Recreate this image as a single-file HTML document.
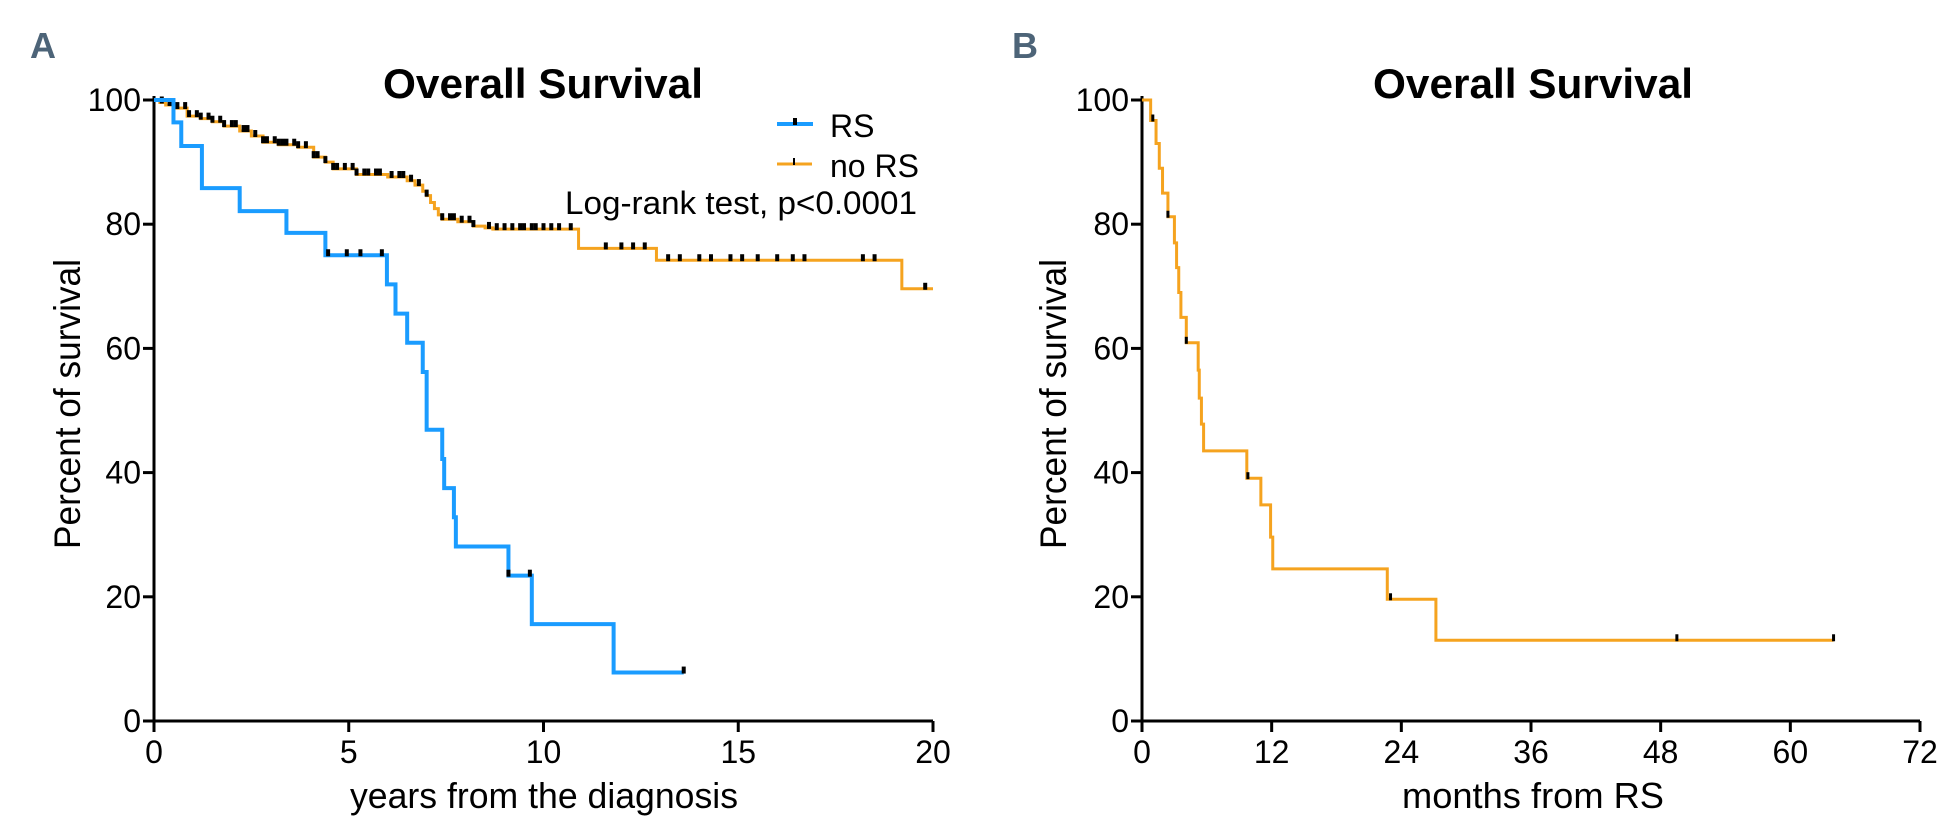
<!DOCTYPE html>
<html><head><meta charset="utf-8"><style>
html,body{margin:0;padding:0;background:#fff;}
svg{display:block;font-family:"Liberation Sans",Arial,sans-serif;}
</style></head><body>
<svg id="s" width="1953" height="834" xmlns="http://www.w3.org/2000/svg">
<text x="30" y="58" font-size="36" font-weight="bold" fill="#4d6478">A</text>
<text x="1012" y="58" font-size="36" font-weight="bold" fill="#4d6478">B</text>
<text x="543" y="98" font-size="42" font-weight="bold" text-anchor="middle" textLength="320" lengthAdjust="spacingAndGlyphs">Overall Survival</text>
<text x="1533" y="98" font-size="42" font-weight="bold" text-anchor="middle" textLength="320" lengthAdjust="spacingAndGlyphs">Overall Survival</text>
<text x="544" y="808" font-size="36" text-anchor="middle" textLength="388" lengthAdjust="spacingAndGlyphs">years from the diagnosis</text>
<text x="1533" y="808" font-size="36" text-anchor="middle" textLength="262" lengthAdjust="spacingAndGlyphs">months from RS</text>
<text transform="translate(80,404) rotate(-90)" font-size="37" text-anchor="middle" textLength="290" lengthAdjust="spacingAndGlyphs">Percent of survival</text>
<text transform="translate(1066,404) rotate(-90)" font-size="37" text-anchor="middle" textLength="290" lengthAdjust="spacingAndGlyphs">Percent of survival</text>
<g>
<line x1="777" y1="124" x2="813" y2="124" stroke="#1a9cff" stroke-width="4"/>
<line x1="795" y1="118" x2="795" y2="125" stroke="#000" stroke-width="4"/>
<text x="830" y="137" font-size="32">RS</text>
<line x1="777" y1="164" x2="812" y2="164" stroke="#f5a31f" stroke-width="3"/>
<line x1="794" y1="158" x2="794" y2="165" stroke="#000" stroke-width="2"/>
<text x="830" y="177" font-size="32">no RS</text>
<text x="565" y="214" font-size="32" textLength="352" lengthAdjust="spacingAndGlyphs">Log-rank test, p&lt;0.0001</text>
</g>
<g id="ga"></g><g id="gb"></g>
</svg>
<script>
// Panel A data
const aXTicks=[0,5,10,15,20];
const yTicks=[0,20,40,60,80,100];
const rsTimes=[0.5,0.7,1.23,2.2,3.4,4.4,5.98,6.2,6.5,6.9,7.0,7.4,7.45,7.7,7.75,9.1,9.7,11.8];
const rsVals=[96.4,92.6,85.8,82.1,78.6,75,70.3,65.6,60.9,56.2,46.9,42.2,37.5,32.8,28.1,23.4,15.6,7.8];
const rsEnd=13.6;
const rsCensor=[4.47,4.95,5.3,5.85,9.1,9.65,13.6];
const noTimes=[0.15,0.3,0.5,0.85,1.2,1.5,1.8,2.2,2.5,2.8,3.2,3.7,4.1,4.4,4.6,5.2,6.0,6.5,6.7,6.9,7.0,7.1,7.2,7.3,7.4,7.8,8.2,8.5,8.7,10.9,12.9,19.2];
const noVals=[99.6,99.2,98.7,97.4,97.0,96.5,95.8,95.0,94.2,93.2,92.8,92.4,90.8,90.0,88.9,88.0,87.6,87.0,86.3,85.3,84.6,83.5,82.5,81.5,80.8,80.4,79.7,79.4,79.2,76.1,74.2,69.6];
const noEnd=20;
const noCensor=[0.2,0.4,0.6,0.8,0.9,1.1,1.2,1.4,1.5,1.7,1.8,2.0,2.1,2.3,2.4,2.6,2.8,2.9,3.1,3.2,3.3,3.4,3.6,3.7,3.9,4.1,4.2,4.4,4.6,4.7,4.9,5.1,5.2,5.4,5.5,5.7,5.8,6.1,6.3,6.4,6.6,6.8,7.0,7.4,7.6,7.7,7.9,8.1,8.2,8.6,8.8,9.0,9.2,9.4,9.5,9.7,9.8,10.0,10.2,10.4,10.7,11.6,12.0,12.3,12.6,13.2,13.5,14.0,14.3,14.8,15.1,15.5,16.0,16.4,16.7,18.2,18.5,19.8];
// Panel B data
const bXTicks=[0,12,24,36,48,60,72];
const bTimes=[0.8,1.3,1.6,1.9,2.4,3.0,3.2,3.4,3.6,4.1,5.2,5.3,5.5,5.7,9.7,11.0,11.9,12.1,22.7,27.2];
const bVals=[96.7,93.0,89.0,85.0,81.2,77.0,73.0,69.0,65.0,60.9,56.5,52.0,47.8,43.5,39.1,34.8,29.6,24.5,19.6,13.0];
const bEnd=64;
const bCensor=[1.0,2.4,4.1,9.8,23.0,49.5,64.0];

const NS="http://www.w3.org/2000/svg";
function mk(p,tag,at){const e=document.createElementNS(NS,tag);for(const k in at)e.setAttribute(k,at[k]);p.appendChild(e);return e;}
function stepVal(times,vals,t){let v=100;for(let i=0;i<times.length;i++){if(times[i]<=t)v=vals[i];}return v;}
function panel(g,x0,x1,xmax,xt,y0,y100){
  const sx=v=>x0+(x1-x0)*v/xmax, sy=v=>y0-(y0-y100)*v/100;
  const ax=mk(g,'path',{d:`M${x0} ${y100-4}V${y0}H${x1}`,stroke:'#000','stroke-width':3,fill:'none'});
  
  
  yTicks.forEach(v=>{mk(g,'line',{x1:x0-11,x2:x0,y1:sy(v),y2:sy(v),stroke:'#000','stroke-width':3});
    const t=mk(g,'text',{x:x0-13,y:sy(v)+11,'font-size':32,'text-anchor':'end'});t.textContent=v;
    
    });
  xt.forEach(v=>{mk(g,'line',{x1:sx(v),x2:sx(v),y1:y0,y2:y0+11,stroke:'#000','stroke-width':3});
    const t=mk(g,'text',{x:sx(v),y:y0+42,'font-size':32,'text-anchor':'middle'});t.textContent=v;
    
    });
  return {sx,sy};
}
function curve(g,s,times,vals,end,cens,color,w,name,ch,cw){
  let d=`M${s.sx(0)} ${s.sy(100)}`;
  times.forEach((t,i)=>{d+=`H${s.sx(t)}V${s.sy(vals[i])}`;});
  d+=`H${s.sx(end)}`;
  const p=mk(g,'path',{d,stroke:color,'stroke-width':w,fill:'none'});
  
  
  cens.forEach(t=>{const y=s.sy(stepVal(times,vals,t));
    const c=mk(g,'line',{x1:s.sx(t),x2:s.sx(t),y1:y-ch,y2:y+1,stroke:'#000','stroke-width':cw});
    
    });
}
const ga=document.getElementById('ga'),gb=document.getElementById('gb');
const sa=panel(ga,154,933,20,aXTicks,721,100);
curve(ga,sa,noTimes,noVals,noEnd,noCensor,'#f5a31f',3,'no-rs-curve',6,4);
curve(ga,sa,rsTimes,rsVals,rsEnd,rsCensor,'#1a9cff',4,'rs-curve',6,4);
const sb=panel(gb,1142,1920,72,bXTicks,721,100);
curve(gb,sb,bTimes,bVals,bEnd,bCensor,'#f5a31f',3,'rs-os-curve',6,3);
</script>
</body></html>
